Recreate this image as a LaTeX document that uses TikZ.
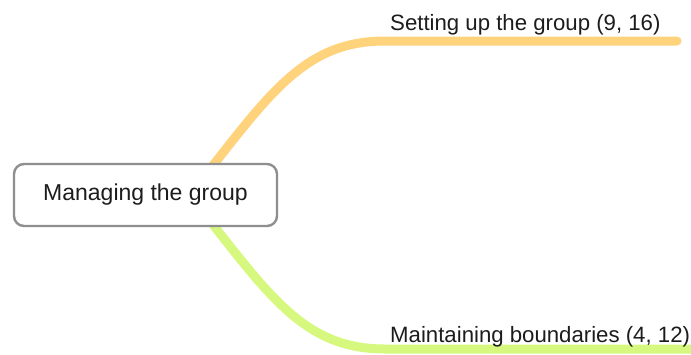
\documentclass[tikz,border=0pt]{standalone}
\usepackage{fontspec}
\setmainfont{Liberation Sans}
\usetikzlibrary{positioning,backgrounds}

\definecolor{setupcol}{HTML}{FFD27C}
\definecolor{boundcol}{HTML}{D6F87E}
\definecolor{framecol}{HTML}{8E8E8E}
\definecolor{inkcol}{HTML}{1C1C1C}

\begin{document}
\begin{tikzpicture}[x=1pt,y=-1pt,
      rootbox/.style={draw=framecol,line width=2.4pt,rounded corners=10pt,fill=white,
        minimum width=263pt,minimum height=62pt,text=inkcol,
        font=\fontsize{23}{27}\selectfont},
      leaf/.style={anchor=base west,inner sep=0pt,text=inkcol,
        font=\fontsize{22.2}{26}\selectfont},
      branch/.style={line width=9pt,line cap=round}]
      \useasboundingbox (0,0) rectangle (691,354);
      \node[rootbox] (root) at (145.5,195) {Managing the group};
      % bend points of the two branches
      \coordinate (hubA)  at (200,182);
      \coordinate (setup) at (385,41);
      \coordinate (setupend) at (677,41);
      \coordinate (hubB)  at (200,208);
      \coordinate (bound) at (385,349);
      \coordinate (boundend) at (710,349);
      \node[leaf] (setuplbl) at (390,30.7) {Setting up the group (9, 16)};
      \node[leaf] (boundlbl) at (390,342.7) {Maintaining boundaries (4, 12)};
      \begin{pgfonlayer}{background}
        \draw[branch,setupcol] (hubA) .. controls (270,93) and (305,41) .. (setup) -- (setupend);
        \draw[branch,boundcol] (hubB) .. controls (270,297) and (305,349) .. (bound) -- (boundend);
      \end{pgfonlayer}
    \end{tikzpicture}
\end{document}
